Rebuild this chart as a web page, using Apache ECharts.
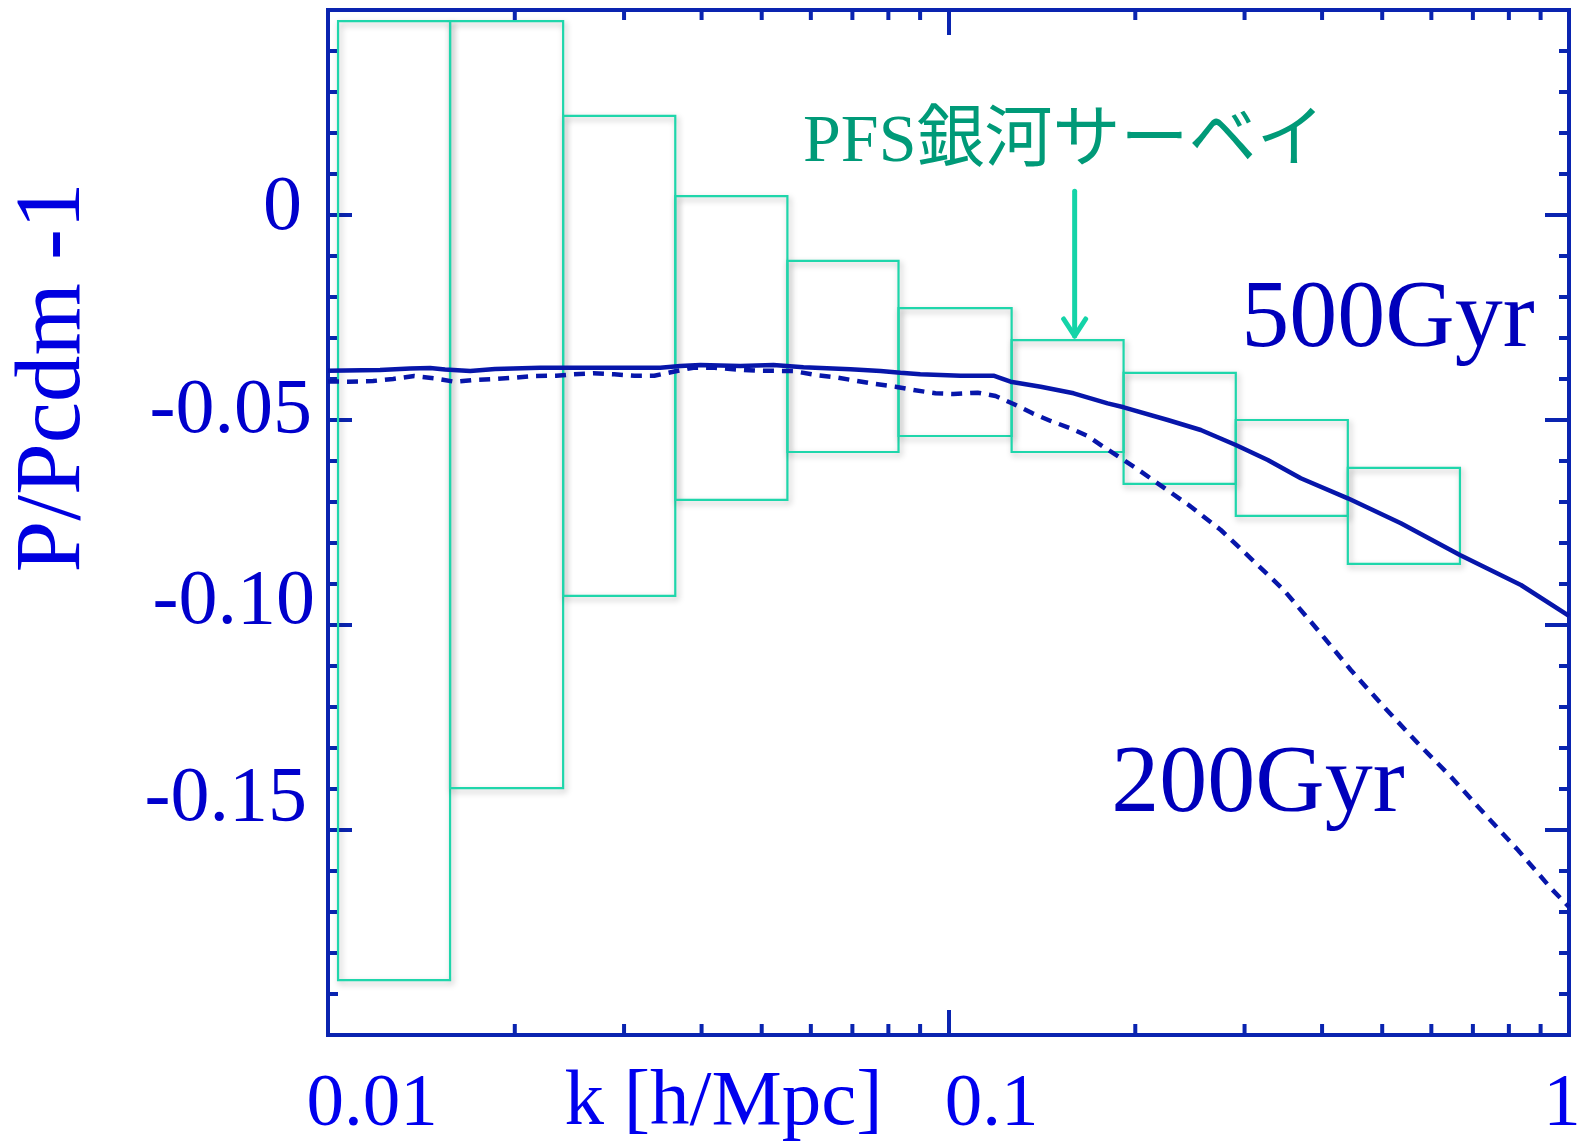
<!DOCTYPE html>
<html>
<head>
<meta charset="utf-8">
<script src="https://cdn.jsdelivr.net/npm/echarts@6/dist/echarts.min.js"></script>
<style>
  html, body { margin: 0; padding: 0; background: #ffffff; }
  #chart { width: 1577px; height: 1146px; }
</style>
</head>
<body>
<div id="chart"></div>
<script>
// Wavenumber k [h/Mpc] and fractional power-spectrum deviation P/Pcdm - 1

// 500 Gyr model (solid)
const k500 = [0.0100, 0.01213, 0.01356, 0.01461, 0.01544, 0.01695, 0.01859, 0.02198, 0.02747, 0.03431,
  0.03696, 0.03981, 0.04618, 0.05222, 0.05838, 0.06949, 0.07771, 0.08366, 0.09006, 0.1046,
  0.1182, 0.1213, 0.1259, 0.1408, 0.1591, 0.1805, 0.1916, 0.2256, 0.2550, 0.2904,
  0.3270, 0.3696, 0.4401, 0.5358, 0.6671, 0.8366, 1.0];
const p500 = [-0.03798, -0.03780, -0.03744, -0.03732, -0.03768, -0.03805, -0.03756, -0.03724, -0.03724, -0.03724,
  -0.03683, -0.03659, -0.03683, -0.03659, -0.03715, -0.03763, -0.03805, -0.03846, -0.03885, -0.03920,
  -0.03920, -0.03976, -0.04066, -0.04188, -0.04349, -0.04593, -0.04690, -0.05000, -0.05244, -0.05610,
  -0.05976, -0.06422, -0.06910, -0.07520, -0.08293, -0.09024, -0.09780];

// 200 Gyr model (dashed)
const k200 = [0.0100, 0.01077, 0.01182, 0.01273, 0.01377, 0.01483, 0.01597, 0.01714, 0.01853, 0.01995,
  0.02149, 0.02332, 0.02485, 0.02676, 0.02893, 0.03116, 0.03356, 0.03601, 0.03879, 0.04195,
  0.04501, 0.04920, 0.05623, 0.06104, 0.06574, 0.07079, 0.07625, 0.08212, 0.08781, 0.09529,
  0.1019, 0.1114, 0.1191, 0.1273, 0.1366, 0.1461, 0.1573, 0.1676, 0.1792, 0.1894,
  0.2025, 0.2173, 0.2438, 0.2747, 0.3069, 0.3470, 0.3937, 0.4450, 0.5029, 0.5707,
  0.6452, 0.7295, 0.8273, 0.9354, 1.0];
const p200 = [-0.04061, -0.04066, -0.04049, -0.04000, -0.03927, -0.03983, -0.04066, -0.04024, -0.04000, -0.03968,
  -0.03927, -0.03920, -0.03885, -0.03861, -0.03885, -0.03920, -0.03920, -0.03822, -0.03724, -0.03724,
  -0.03763, -0.03798, -0.03805, -0.03902, -0.03959, -0.04041, -0.04122, -0.04188, -0.04268, -0.04349,
  -0.04366, -0.04334, -0.04415, -0.04610, -0.04837, -0.05024, -0.05202, -0.05390, -0.05690, -0.05927,
  -0.06220, -0.06544, -0.07073, -0.07683, -0.08373, -0.09146, -0.10122, -0.11098, -0.11993, -0.12885,
  -0.13700, -0.14593, -0.15488, -0.16422, -0.16878];

// PFS galaxy survey error boxes: k-bin edges and upper / lower bounds
const binEdges = [0.01038, 0.01573, 0.02393, 0.03628, 0.05500, 0.08307, 0.1264, 0.1915, 0.2904, 0.4401, 0.6672];
const boxTop = [0.0473, 0.0473, 0.0242, 0.0046, -0.0112, -0.0227, -0.0305, -0.0385, -0.0500, -0.0617];
const boxBottom = [-0.1866, -0.1398, -0.0929, -0.0695, -0.0578, -0.0539, -0.0578, -0.0656, -0.0734, -0.0851];

// Arrow pointing at the survey boxes: k position, start value, tip value
const arrowK = [0.1597];
const arrowFrom = [0.0058];
const arrowTo = [-0.0300];

// Axis ranges and tick values
const xRange = [0.01, 1];
const yRange = [-0.2, 0.05];
const yStep = 0.05;
const xMinorTicks = [0.02, 0.03, 0.04, 0.05, 0.06, 0.07, 0.08, 0.09, 0.2, 0.3, 0.4, 0.5, 0.6, 0.7, 0.8, 0.9];
const xTickLabels = ['0.01', '0.1', '1'];
const yTickValues = [0, -0.05, -0.10, -0.15];
const yTickLabels = ['0', '-0.05', '-0.10', '-0.15'];

const AXIS = '#0a24b0';
const CURVE = '#0716aa';
const BOX = '#1fd6ab';
const SERIF = '"Liberation Serif", "Times New Roman", serif';

const near = (a, b) => Math.abs(a - b) < 1e-6 * Math.max(1, Math.abs(b));

const chart = echarts.init(document.getElementById('chart'), null, { renderer: 'canvas' });

const xLabelBase = { fontFamily: SERIF, fontSize: 75, color: '#0000ee' };
const yLabelBase = { fontFamily: SERIF, fontSize: 78, color: '#0000cc' };

const option = {
  animation: false,
  backgroundColor: '#ffffff',
  grid: {
    left: 328, top: 10, width: 1241, height: 1025,
    containLabel: false, outerBoundsMode: 'none',
    show: true, borderColor: AXIS, borderWidth: 4, backgroundColor: 'transparent'
  },
  xAxis: [
    {
      type: 'log', logBase: 10, min: xRange[0], max: xRange[1], position: 'bottom',
      axisLine: { show: false, onZero: false },
      axisTick: { inside: true, length: 25, lineStyle: { color: AXIS, width: 4 } },
      splitLine: { show: false },
      axisLabel: {
        margin: 33,
        formatter: function (v) {
          if (near(v, 0.01)) return '{a|' + xTickLabels[0] + '}';
          if (near(v, 0.1)) return '{b|' + xTickLabels[1] + '}';
          if (near(v, 1)) return '{c|' + xTickLabels[2] + '}';
          return '';
        },
        rich: {
          a: Object.assign({}, xLabelBase, { padding: [0, 0, 0, 88] }),
          b: Object.assign({}, xLabelBase, { padding: [0, 0, 0, 86] }),
          c: Object.assign({}, xLabelBase, { padding: [0, 14, 0, 0] })
        }
      },
      name: 'k [h/Mpc]',
      nameLocation: 'middle',
      nameGap: 68,
      nameMoveOverlap: false,
      nameTextStyle: {
        fontFamily: SERIF, fontSize: 79, color: '#0000ee',
        verticalAlign: 'middle', align: 'center', padding: [0, 450, 0, 0]
      }
    },
    {
      type: 'log', logBase: 10, min: xRange[0], max: xRange[1], position: 'top',
      axisLine: { show: false, onZero: false },
      axisTick: { inside: true, length: 25, lineStyle: { color: AXIS, width: 4 } },
      axisLabel: { show: false },
      splitLine: { show: false }
    }
  ],
  yAxis: [
    {
      type: 'value', min: yRange[0], max: yRange[1], interval: yStep, position: 'left',
      axisLine: { show: false, onZero: false },
      axisTick: { inside: true, length: 24, lineStyle: { color: AXIS, width: 4 } },
      minorTick: { show: true, splitNumber: 5, length: 10, lineStyle: { color: AXIS, width: 4 } },
      splitLine: { show: false },
      minorSplitLine: { show: false },
      axisLabel: {
        margin: 13,
        formatter: function (v) {
          for (let i = 0; i < yTickValues.length; i++) {
            if (Math.abs(v - yTickValues[i]) < 1e-9) return '{t' + i + '|' + yTickLabels[i] + '}';
          }
          return '';
        },
        rich: {
          t0: Object.assign({}, yLabelBase, { padding: [0, 13, 12, 0] }),
          t1: Object.assign({}, yLabelBase, { padding: [0, 3, 16, 0] }),
          t2: Object.assign({}, yLabelBase, { padding: [0, 0, 44, 0] }),
          t3: Object.assign({}, yLabelBase, { padding: [0, 8, 60, 0] })
        }
      },
      name: 'P/Pcdm -1',
      nameLocation: 'middle',
      nameRotate: 90,
      nameGap: 273,
      nameMoveOverlap: false,
      nameTextStyle: {
        fontFamily: SERIF, fontSize: 93, color: '#0000e0',
        verticalAlign: 'middle', align: 'center', padding: [0, 0, 0, 290]
      }
    },
    {
      type: 'value', min: yRange[0], max: yRange[1], interval: yStep, position: 'right',
      axisLine: { show: false, onZero: false },
      axisTick: { inside: true, length: 24, lineStyle: { color: AXIS, width: 4 } },
      minorTick: { show: true, splitNumber: 5, length: 10, lineStyle: { color: AXIS, width: 4 } },
      splitLine: { show: false },
      minorSplitLine: { show: false },
      axisLabel: { show: false }
    }
  ],
  graphic: [
    {
      type: 'text', left: 803, top: 109, z: 10,
      style: {
        text: 'PFS銀河サーベイ',
        font: '68px "Liberation Serif", "Noto Sans CJK JP", serif',
        fill: '#009a78'
      }
    },
    {
      type: 'text', x: 1388, y: 321, z: 10,
      style: {
        text: '500Gyr', font: '96px "Liberation Serif", serif', fill: '#0000bb',
        align: 'center', verticalAlign: 'middle'
      }
    },
    {
      type: 'text', x: 1258, y: 786, z: 10,
      style: {
        text: '200Gyr', font: '96px "Liberation Serif", serif', fill: '#0000bb',
        align: 'center', verticalAlign: 'middle'
      }
    }
  ],
  series: [
    {
      // survey error boxes
      type: 'custom',
      xAxisIndex: 0, yAxisIndex: 0,
      z: 2,
      data: boxTop.map((t, i) => [binEdges[i], binEdges[i + 1], boxBottom[i], t]),
      encode: { x: [0, 1], y: [2, 3] },
      renderItem: function (params, api) {
        const a = api.coord([api.value(0), api.value(3)]);
        const b = api.coord([api.value(1), api.value(2)]);
        return {
          type: 'rect',
          shape: { x: a[0], y: a[1], width: b[0] - a[0], height: b[1] - a[1] },
          style: {
            fill: 'none', stroke: BOX, lineWidth: 2.2,
            shadowBlur: 6, shadowColor: 'rgba(0,0,0,0.28)', shadowOffsetX: 2, shadowOffsetY: 3
          }
        };
      }
    },
    {
      // minor ticks of the logarithmic k axis, bottom and top
      type: 'custom',
      xAxisIndex: 0, yAxisIndex: 0,
      clip: false,
      z: 3,
      data: xMinorTicks.map(k => [k, yRange[0]]),
      encode: { x: 0, y: 1 },
      renderItem: function (params, api) {
        const k = api.value(0);
        const pb = api.coord([k, yRange[0]]);
        const pt = api.coord([k, yRange[1]]);
        const st = { stroke: AXIS, lineWidth: 4 };
        return {
          type: 'group',
          children: [
            { type: 'line', shape: { x1: pb[0], y1: pb[1], x2: pb[0], y2: pb[1] - 11 }, style: st },
            { type: 'line', shape: { x1: pt[0], y1: pt[1], x2: pt[0], y2: pt[1] + 10 }, style: st }
          ]
        };
      }
    },
    {
      name: '500Gyr',
      type: 'line',
      xAxisIndex: 0, yAxisIndex: 0,
      z: 5,
      showSymbol: false,
      data: k500.map((k, i) => [k, p500[i]]),
      lineStyle: { color: CURVE, width: 4.5 }
    },
    {
      name: '200Gyr',
      type: 'line',
      xAxisIndex: 0, yAxisIndex: 0,
      z: 5,
      showSymbol: false,
      data: k200.map((k, i) => [k, p200[i]]),
      lineStyle: { color: CURVE, width: 4.5, type: [11, 8] }
    },
    {
      // arrow marking the survey boxes
      type: 'custom',
      xAxisIndex: 0, yAxisIndex: 0,
      clip: false,
      z: 6,
      data: arrowK.map((k, i) => [k, arrowFrom[i], arrowTo[i]]),
      encode: { x: 0, y: [1, 2] },
      renderItem: function (params, api) {
        const k = api.value(0);
        const p0 = api.coord([k, api.value(1)]);
        const p1 = api.coord([k, api.value(2)]);
        const st = { stroke: '#14d4a8', lineWidth: 5, lineCap: 'round', lineJoin: 'round', fill: 'none' };
        return {
          type: 'group',
          children: [
            { type: 'line', shape: { x1: p0[0], y1: p0[1], x2: p1[0], y2: p1[1] - 2 }, style: st },
            { type: 'polyline', shape: { points: [[p1[0] - 11, p1[1] - 19], [p1[0], p1[1] - 2], [p1[0] + 11, p1[1] - 19]] }, style: st }
          ]
        };
      }
    }
  ]
};

chart.setOption(option);
</script>
</body>
</html>
